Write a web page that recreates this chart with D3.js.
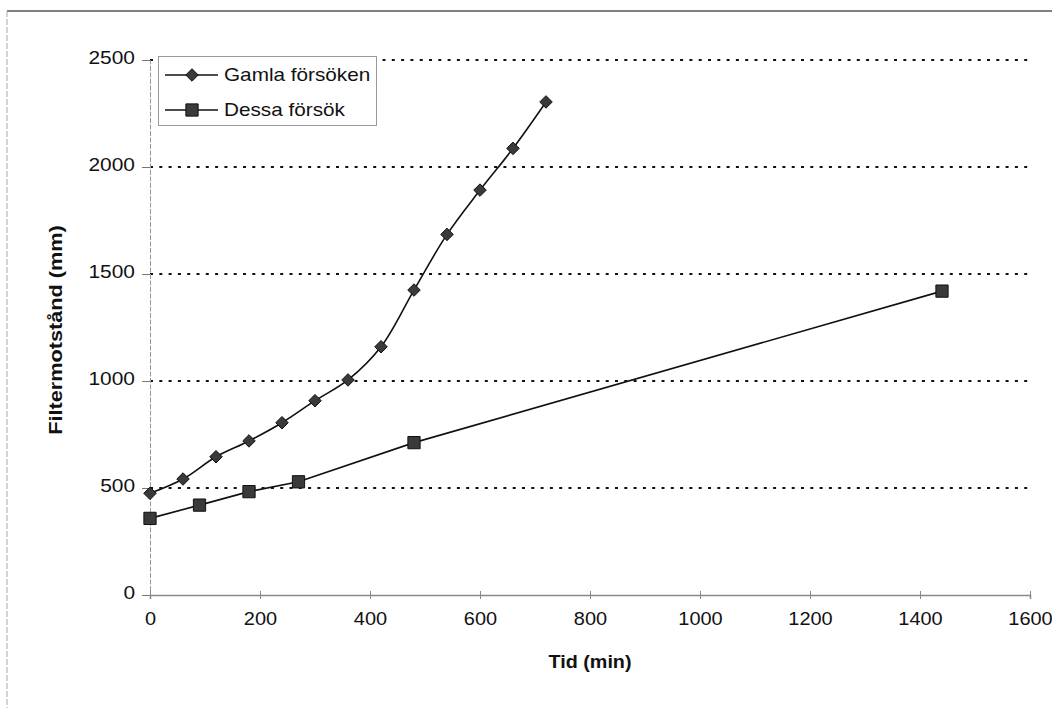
<!DOCTYPE html>
<html>
<head>
<meta charset="utf-8">
<script src="https://cdn.jsdelivr.net/npm/d3@7"></script>
<style>
  html, body { margin: 0; padding: 0; background: #fff; }
  svg { display: block; font-family: Arial, "Liberation Sans", sans-serif; }
</style>
</head>
<body>
<svg id="chart" width="1052" height="708"></svg>
<script>
// Filter resistance over time for two test runs
const gamlaTid = [0, 60, 120, 180, 240, 300, 360, 420, 480, 540, 600, 660, 720];
const gamlaMotstand = [475, 542, 646, 720, 805, 908, 1005, 1160, 1425, 1685, 1892, 2087, 2304];

const dessaTid = [0, 90, 180, 270, 480, 1440];
const dessaMotstand = [358, 420, 483, 529, 712, 1420];

const xTicks = [0, 200, 400, 600, 800, 1000, 1200, 1400, 1600];
const yTicks = [0, 500, 1000, 1500, 2000, 2500];

const seriesNames = ["Gamla försöken", "Dessa försök"];
const xTitle = "Tid (min)";
const yTitle = "Filtermotstånd (mm)";

const W = 1052, H = 708;
const plot = { left: 150, right: 1030, top: 60, bottom: 595 };

const svg = d3.select("#chart");

const x = d3.scaleLinear().domain([0, 1600]).range([plot.left, plot.right]);
const y = d3.scaleLinear().domain([0, 2500]).range([plot.bottom, plot.top]);

// widen text slightly, the printed typeface runs wide
function widen(sel, f) {
  sel.each(function () {
    const len = this.getComputedTextLength();
    d3.select(this).attr("textLength", len * f).attr("lengthAdjust", "spacingAndGlyphs");
  });
}

// outer frame (top and left edges)
svg.append("line").attr("x1", 7).attr("x2", W).attr("y1", 11).attr("y2", 11)
  .attr("stroke", "#555").attr("stroke-width", 1.5);
svg.append("line").attr("x1", 7).attr("x2", 7).attr("y1", 11).attr("y2", H)
  .attr("stroke", "#aaa").attr("stroke-width", 1).attr("stroke-dasharray", "6,2");

// dotted horizontal gridlines
svg.append("g").selectAll("line").data(yTicks.filter(d => d > 0)).join("line")
  .attr("x1", plot.left).attr("x2", plot.right)
  .attr("y1", d => y(d)).attr("y2", d => y(d))
  .attr("stroke", "#111").attr("stroke-width", 2)
  .attr("stroke-dasharray", "3,6.3");

// y axis
const yAxis = svg.append("g").attr("transform", `translate(${plot.left},0)`)
  .call(d3.axisLeft(y).tickValues(yTicks).tickSize(8).tickPadding(7).tickFormat(d3.format("d")));
yAxis.select(".domain").attr("stroke", "#999").attr("stroke-width", 1).attr("stroke-dasharray", "5,1.5");
yAxis.selectAll(".tick line").attr("stroke", "#777");
yAxis.selectAll(".tick text").attr("font-size", 19).attr("fill", "#111")
  .attr("font-family", "Arial, 'Liberation Sans', sans-serif").attr("dy", "0.18em");
widen(yAxis.selectAll(".tick text"), 1.1);

// x axis
const xAxis = svg.append("g").attr("transform", `translate(0,${plot.bottom})`)
  .call(d3.axisBottom(x).tickValues(xTicks).tickSize(4).tickPadding(13).tickFormat(d3.format("d")));
xAxis.select(".domain").attr("stroke", "#888").attr("stroke-width", 1.5);
xAxis.selectAll(".tick line").attr("y1", -4).attr("stroke", "#888");
xAxis.selectAll(".tick text").attr("font-size", 19).attr("fill", "#111")
  .attr("font-family", "Arial, 'Liberation Sans', sans-serif");
widen(xAxis.selectAll(".tick text"), 1.05);

// axis titles
const xt = svg.append("text").attr("x", (plot.left + plot.right) / 2).attr("y", 668)
  .attr("text-anchor", "middle").attr("font-size", 19).attr("font-weight", "bold")
  .attr("fill", "#111").text(xTitle);
widen(xt, 1.04);
const yt = svg.append("text").attr("transform", "translate(62,330) rotate(-90)")
  .attr("text-anchor", "middle").attr("font-size", 19).attr("font-weight", "bold")
  .attr("fill", "#111").text(yTitle);
widen(yt, 1.14);

// series lines
const gamla = gamlaTid.map((t, i) => [t, gamlaMotstand[i]]);
const dessa = dessaTid.map((t, i) => [t, dessaMotstand[i]]);

const smooth = d3.line().x(d => x(d[0])).y(d => y(d[1])).curve(d3.curveCatmullRom.alpha(0.5));
const straight = d3.line().x(d => x(d[0])).y(d => y(d[1]));

svg.append("path").attr("d", smooth(gamla)).attr("fill", "none")
  .attr("stroke", "#111").attr("stroke-width", 1.6);
svg.append("path").attr("d", straight(dessa)).attr("fill", "none")
  .attr("stroke", "#111").attr("stroke-width", 1.6);

// markers
const diamond = d3.symbol().type(d3.symbolDiamond2).size(100);
const square = d3.symbol().type(d3.symbolSquare).size(150);
const markFill = "#3a3a3a", markStroke = "#111";

svg.append("g").selectAll("path").data(gamla).join("path")
  .attr("transform", d => `translate(${x(d[0])},${y(d[1])})`)
  .attr("d", diamond).attr("fill", markFill).attr("stroke", markStroke).attr("stroke-width", 1);
svg.append("g").selectAll("path").data(dessa).join("path")
  .attr("transform", d => `translate(${x(d[0])},${y(d[1])})`)
  .attr("d", square).attr("fill", markFill).attr("stroke", markStroke).attr("stroke-width", 1);

// legend
const lg = svg.append("g");
lg.append("rect").attr("x", 158.5).attr("y", 56.5).attr("width", 218).attr("height", 69)
  .attr("fill", "#fff").attr("stroke", "#999").attr("stroke-width", 1);
const legendRows = [
  { name: seriesNames[0], sym: diamond, cy: 75 },
  { name: seriesNames[1], sym: square, cy: 110 }
];
legendRows.forEach(r => {
  lg.append("line").attr("x1", 165).attr("x2", 218).attr("y1", r.cy).attr("y2", r.cy)
    .attr("stroke", "#111").attr("stroke-width", 1.5);
  lg.append("path").attr("transform", `translate(192,${r.cy})`).attr("d", r.sym)
    .attr("fill", markFill).attr("stroke", markStroke).attr("stroke-width", 1);
  const t = lg.append("text").attr("x", 224).attr("y", r.cy + 6).attr("font-size", 18.5)
    .attr("fill", "#111").text(r.name);
  widen(t, 1.12);
});
</script>
</body>
</html>
